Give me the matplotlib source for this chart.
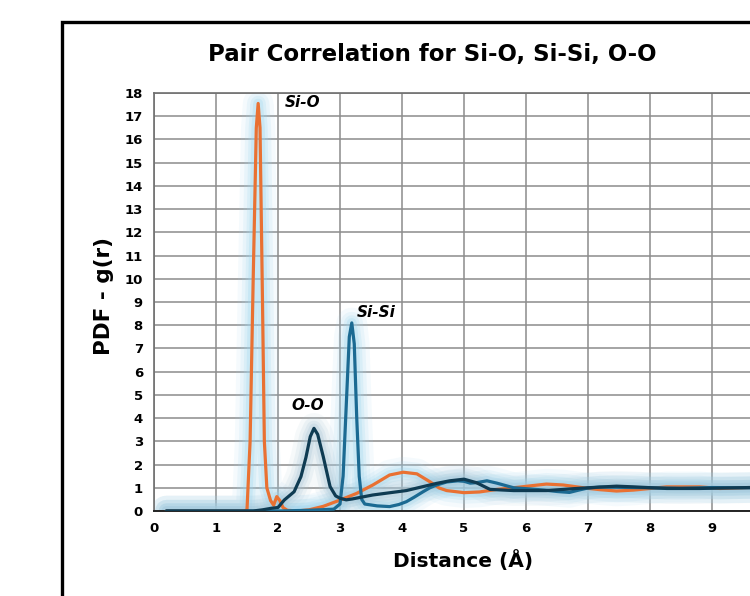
import matplotlib
matplotlib.use("Agg")
import matplotlib.pyplot as plt
from matplotlib.patches import Rectangle

# Si-O (orange)
sio_x = [0.2, 1.45, 1.5, 1.55, 1.60, 1.65, 1.68, 1.71, 1.75, 1.78, 1.82, 1.88, 1.93, 1.98,
         2.03, 2.08, 2.15, 2.3, 2.5, 2.73, 3.0, 3.27, 3.53, 3.8, 4.02, 4.24, 4.45, 4.6, 4.72,
         5.0, 5.25, 5.53, 5.8, 6.06, 6.33, 6.6, 6.98, 7.19, 7.46, 7.73, 8.0, 8.27, 8.8, 9.13,
         9.6, 10.0]
sio_y = [0, 0, 0.05, 3, 10, 16.5, 17.55, 16.5, 9, 3, 1.0, 0.45, 0.25, 0.62,
         0.45, 0.15, 0.03, 0.0, 0.05, 0.2, 0.47, 0.76, 1.12, 1.55, 1.67, 1.6, 1.26, 0.99, 0.88,
         0.79, 0.82, 0.93, 1.0, 1.08, 1.16, 1.12, 0.98, 0.92, 0.86, 0.9, 0.97, 1.04, 1.04, 0.97,
         1.01, 1.0]

# Si-Si (blue)
sisi_x = [0.2, 2.0, 2.5, 2.9, 3.0, 3.05, 3.1, 3.15, 3.19, 3.23, 3.27, 3.31, 3.35, 3.4, 3.6,
          3.8, 3.95, 4.07, 4.2, 4.34, 4.45, 4.56, 4.72, 4.9, 5.0, 5.1, 5.2, 5.37, 5.53, 5.8,
          6.06, 6.3, 6.5, 6.7, 6.85, 6.98, 7.19, 7.5, 8.0, 8.5, 9.0, 9.5, 10.0]
sisi_y = [0, 0, 0.03, 0.08, 0.3, 1.5, 4.5, 7.5, 8.1, 7.2, 4.0, 1.5, 0.5, 0.3, 0.22,
          0.19, 0.28, 0.4, 0.6, 0.83, 1.0, 1.12, 1.25, 1.3, 1.28, 1.2, 1.22, 1.3, 1.2, 1.0,
          0.95, 0.9, 0.84, 0.8, 0.9, 0.98, 1.03, 1.02, 1.0, 0.98, 1.01, 1.0, 1.0]

# O-O (navy)
oo_x = [0.2, 1.6, 1.75, 1.9, 2.0, 2.1, 2.26, 2.37, 2.45, 2.52, 2.58, 2.64, 2.73, 2.84, 2.93,
        3.0, 3.1, 3.2, 3.53, 4.07, 4.56, 4.77, 5.0, 5.2, 5.42, 5.8, 6.33, 6.87, 7.19, 7.46,
        7.73, 8.27, 8.8, 9.6, 10.0]
oo_y = [0, 0, 0.05, 0.12, 0.15, 0.47, 0.83, 1.48, 2.3, 3.2, 3.56, 3.3, 2.34, 1.05, 0.65,
        0.55, 0.48, 0.52, 0.69, 0.88, 1.19, 1.3, 1.37, 1.22, 0.93, 0.88, 0.88, 0.98, 1.03, 1.07,
        1.04, 0.97, 0.97, 1.01, 1.0]

x_ticks = list(range(0, 11))
x_labels = [str(t) for t in range(0, 10)] + [""]   # "10" falls outside the crop
y_ticks = list(range(0, 19))

fig = plt.figure(figsize=(7.5, 5.96), dpi=100)
fig.patch.set_facecolor("white")

# outer frame (cropped on the right and bottom)
fig.patches.append(Rectangle((62 / 750, -0.2), 2, (596 - 22) / 596 + 0.2,
                             transform=fig.transFigure, fill=False,
                             lw=2.4, edgecolor="black"))

ax = fig.add_axes([154 / 750, 1 - 511 / 596, 620 / 750, 418 / 596])

series = [
    (sio_x, sio_y, "#E97132", "#9fd6ee"),
    (sisi_x, sisi_y, "#1B6A92", "#9fd6ee"),
    (oo_x, oo_y, "#0F3B52", "#a9c6d6"),
]
# soft glow behind each line
for xs, ys, col, glow in series:
    for w, a in [(22, 0.10), (16, 0.15), (11, 0.2), (7, 0.28)]:
        ax.plot(xs, ys, color=glow, lw=w, alpha=a, solid_capstyle="round",
                solid_joinstyle="round", zorder=2)
for xs, ys, col, glow in series:
    ax.plot(xs, ys, color=col, lw=2.3, solid_joinstyle="round",
            solid_capstyle="round", zorder=3)

ax.set_xlim(0, 10)
ax.set_ylim(0, 18)
ax.set_xticks(x_ticks)
ax.set_xticklabels(x_labels)
ax.set_yticks(y_ticks)
ax.grid(True, color="#8c8c8c", lw=1.1, zorder=0)
ax.set_axisbelow(True)
ax.tick_params(length=0, pad=8)
for lab in ax.get_xticklabels() + ax.get_yticklabels():
    lab.set_fontweight("bold")
    lab.set_fontsize(9.5)
for s in ["left", "top", "right"]:
    ax.spines[s].set_color("#6e6e6e")
    ax.spines[s].set_linewidth(1.2)
ax.spines["bottom"].set_color("#222222")
ax.spines["bottom"].set_linewidth(1.4)

for x, y, s in [(2.39, 17.6, "Si-O"), (3.58, 8.55, "Si-Si"), (2.48, 4.55, "O-O")]:
    ax.text(x, y, s, fontsize=11, fontweight="bold", style="italic",
            ha="center", va="center")

fig.text(432 / 750, 1 - 55 / 596, "Pair Correlation for Si-O, Si-Si, O-O",
         fontsize=16.5, fontweight="bold", ha="center", va="center")
fig.text(463 / 750, 1 - 561 / 596, "Distance (Å)", fontsize=14.5, fontweight="bold",
         ha="center", va="center")
fig.text(104 / 750, 1 - 296 / 596, "PDF - g(r)", fontsize=15.5, fontweight="bold",
         ha="center", va="center", rotation=90)

fig.savefig("out.png", dpi=100)
